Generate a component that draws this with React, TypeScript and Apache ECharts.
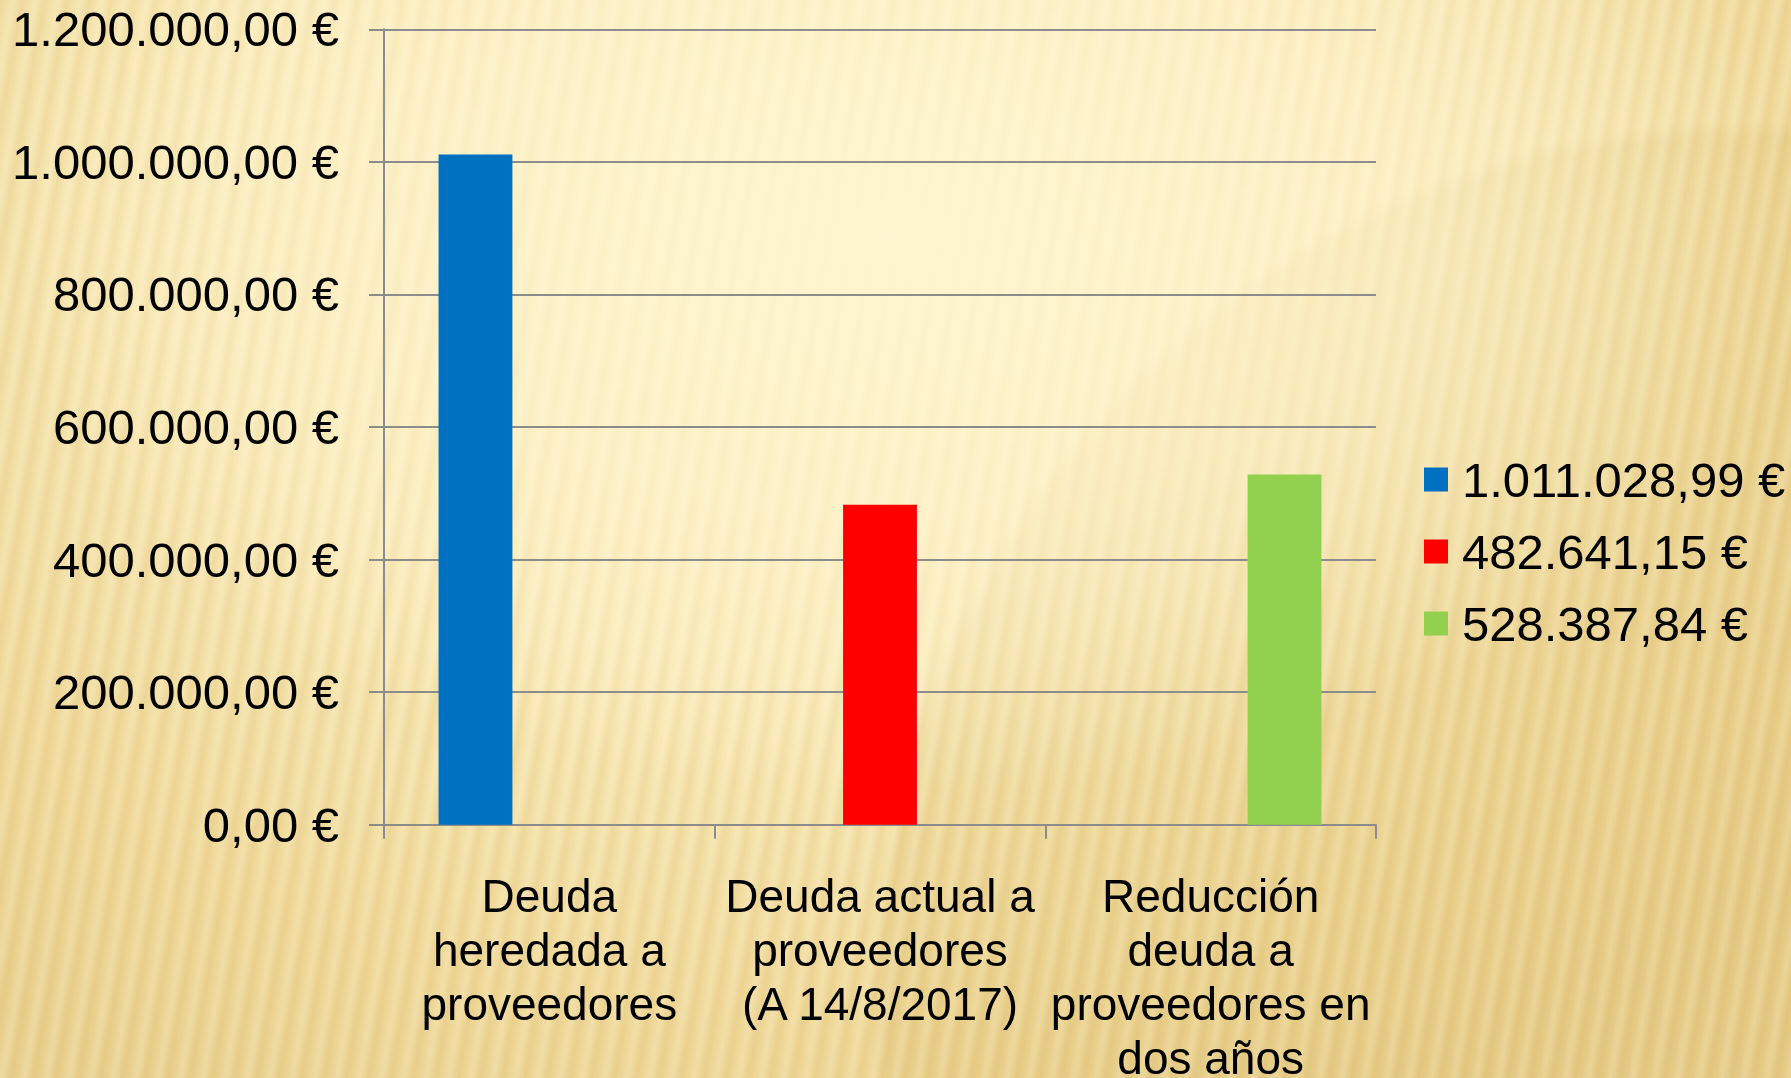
import React, { useEffect, useRef } from "react";
import * as echarts from "echarts";

const categories = [
  "Deuda\nheredada a\nproveedores",
  "Deuda actual a\nproveedores\n(A 14/8/2017)",
  "Reducción\ndeuda a\nproveedores en\ndos años",
];
const heredada = [1011028.99, null, null];
const actual = [null, 482641.15, null];
const reduccion = [null, null, 528387.84];
const seriesValues = [heredada, actual, reduccion];
const seriesColors = ["#0070C0", "#FF0000", "#92D050"];
const yTicks = { min: 0, max: 1200000, interval: 200000 };

function fmtEuro(v: number): string {
  const fixed = v.toFixed(2);
  const [intPart, dec] = fixed.split(".");
  const withDots = intPart.replace(/\B(?=(\d{3})+(?!\d))/g, ".");
  return withDots + "," + dec + " €";
}

const seriesNames = seriesValues.map((arr) => {
  const v = arr.find((x) => x !== null) as number;
  return fmtEuro(v);
});

const FONT = "'Liberation Sans', Arial, sans-serif";

export default function App() {
  const ref = useRef<HTMLDivElement>(null);
  useEffect(() => {
    if (!ref.current) return;
    const chart = echarts.init(ref.current, undefined, { renderer: "svg" });
    chart.setOption({
      animation: false,
      backgroundColor: "transparent",
      textStyle: { fontFamily: FONT },
      grid: {
        left: 384,
        width: 992,
        top: 29.3,
        height: 795.4,
        containLabel: false,
        outerBoundsMode: "none",
      },
      legend: {
        orient: "vertical",
        left: 1419,
        top: 450,
        itemWidth: 24,
        itemHeight: 24,
        itemGap: 23,
        icon: "rect",
        textStyle: { fontSize: 49, color: "#000", fontFamily: FONT, padding: [0, 0, 0, 9] },
        data: seriesNames,
      },
      xAxis: {
        type: "category",
        data: categories,
        axisLine: { show: true, lineStyle: { color: "#8C8C8C", width: 2 } },
        axisTick: { show: true, length: 14, lineStyle: { color: "#8C8C8C", width: 2 } },
        axisLabel: {
          interval: 0,
          color: "#000",
          fontSize: 46,
          lineHeight: 54,
          margin: 44,
          fontFamily: FONT,
        },
      },
      yAxis: {
        type: "value",
        min: yTicks.min,
        max: yTicks.max,
        interval: yTicks.interval,
        axisLine: { show: true, lineStyle: { color: "#8C8C8C", width: 2 } },
        axisTick: { show: true, length: 15, lineStyle: { color: "#8C8C8C", width: 2 } },
        splitLine: { show: true, lineStyle: { color: "#8C8C8C", width: 2 } },
        axisLabel: {
          color: "#000",
          fontSize: 49,
          margin: 45,
          fontFamily: FONT,
          formatter: (v: number) => fmtEuro(v),
        },
      },
      series: seriesValues.map((data, i) => ({
        name: seriesNames[i],
        type: "bar",
        data: data.map((v) => (v === null ? "-" : v)),
        itemStyle: { color: seriesColors[i] },
        barGap: "0%",
        barCategoryGap: "33%",
      })),
    });
    return () => chart.dispose();
  }, []);

  const bg = [
    "radial-gradient(ellipse 900px 560px at 50% 22%, rgba(254,245,208,0.92) 0%, rgba(254,245,208,0.55) 55%, rgba(254,245,208,0) 100%)",
    "repeating-linear-gradient(100deg, rgba(200,160,70,0.15) 0px, rgba(200,160,70,0.02) 7px, rgba(255,250,225,0.18) 13px, rgba(200,160,70,0.15) 22px)",
    "radial-gradient(circle 880px at 1750px 1000px, rgba(205,170,80,0.16) 0%, rgba(205,170,80,0.16) 98%, rgba(205,170,80,0) 100%)",
    "radial-gradient(ellipse 1300px 1000px at 45% 20%, #FDF2C8 0%, #FAEBBA 45%, #F0DA9C 80%, #EAD292 100%)",
  ].join(",");

  return (
    <div
      style={{
        position: "fixed",
        left: 0,
        top: 0,
        width: 1791,
        height: 1078,
        background: bg,
      }}
    >
      <div ref={ref} style={{ width: 1791, height: 1078 }} />
    </div>
  );
}
